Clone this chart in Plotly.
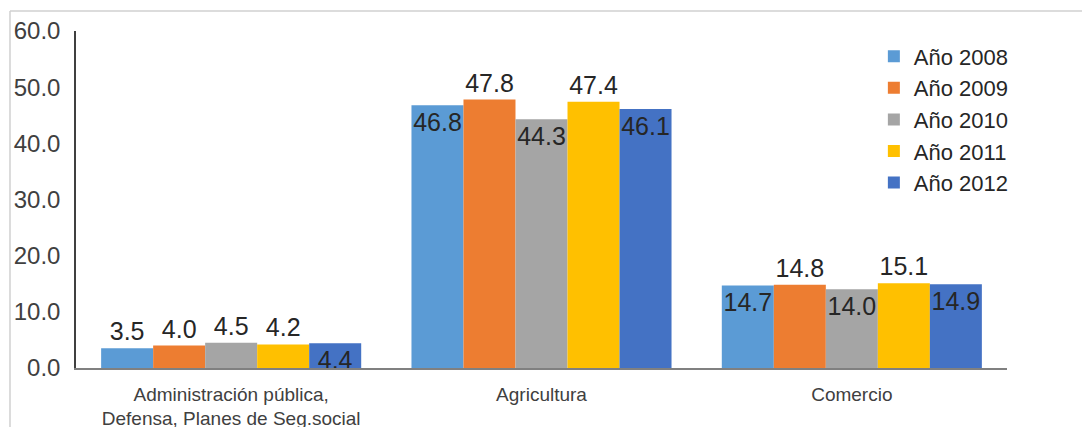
import plotly.graph_objects as go

categories = ["Administración pública,<br>Defensa, Planes de Seg.social", "Agricultura", "Comercio"]
series_names = ["Año 2008", "Año 2009", "Año 2010", "Año 2011", "Año 2012"]
v2008 = [3.5, 46.8, 14.7]
v2009 = [4.0, 47.8, 14.8]
v2010 = [4.5, 44.3, 14.0]
v2011 = [4.2, 47.4, 15.1]
v2012 = [4.4, 46.1, 14.9]
values = [v2008, v2009, v2010, v2011, v2012]
colors = ["#5B9BD5", "#ED7D31", "#A5A5A5", "#FFC000", "#4472C4"]
label_pos = [
    ["outside", "inside", "inside"],
    ["outside", "outside", "outside"],
    ["outside", "inside", "inside"],
    ["outside", "outside", "outside"],
    ["inside", "inside", "inside"],
]
y_ticks = [0, 10, 20, 30, 40, 50, 60]

FONT = "Arial, Liberation Sans, sans-serif"

fig = go.Figure()
for name, vals, col, pos in zip(series_names, values, colors, label_pos):
    fig.add_trace(go.Bar(
        x=categories, y=vals, name=name,
        marker=dict(color=col, line=dict(width=0)),
        text=[f"{v:.1f}" for v in vals],
        textposition=pos,
        textangle=0,
        insidetextanchor="end",
        constraintext="none",
        cliponaxis=False,
        textfont=dict(family=FONT, size=25, color="#262626"),
        insidetextfont=dict(family=FONT, size=25, color="#262626"),
        outsidetextfont=dict(family=FONT, size=25, color="#262626"),
    ))

fig.update_layout(
    width=1090, height=427,
    margin=dict(l=68, r=91, t=23, b=67),
    paper_bgcolor="white", plot_bgcolor="white",
    barmode="group", bargap=0.162, bargroupgap=0,
    font=dict(family=FONT, color="#404040"),
    showlegend=True,
    legend=dict(
        x=0.857, y=0.987, xanchor="left", yanchor="top",
        font=dict(family=FONT, size=22, color="#262626"),
        tracegroupgap=0, itemwidth=30,
        bgcolor="rgba(0,0,0,0)",
    ),
    xaxis=dict(
        showline=True, linecolor="#808080", linewidth=1.5,
        ticks="", showgrid=False, automargin=False,
        tickfont=dict(family=FONT, size=19, color="#404040"),
        ticklabelstandoff=8,
    ),
    yaxis=dict(
        range=[0, 60], tickvals=y_ticks,
        ticktext=[f"{t:.1f}" for t in y_ticks],
        showline=True, linecolor="#404040", linewidth=1.5,
        ticks="", showgrid=False, zeroline=False, automargin=False,
        tickfont=dict(family=FONT, size=24, color="#404040"),
        ticklabelstandoff=9,
    ),
    shapes=[
        dict(type="line", xref="paper", yref="paper",
             x0=-0.0709, x1=1.1, y0=1.0593, y1=1.0593,
             line=dict(color="#D0D0D0", width=1.5)),
        dict(type="line", xref="paper", yref="paper",
             x0=-0.0709, x1=-0.0709, y0=1.0593, y1=-0.2,
             line=dict(color="#D0D0D0", width=1.5)),
    ],
)

fig.write_html("out.html")
